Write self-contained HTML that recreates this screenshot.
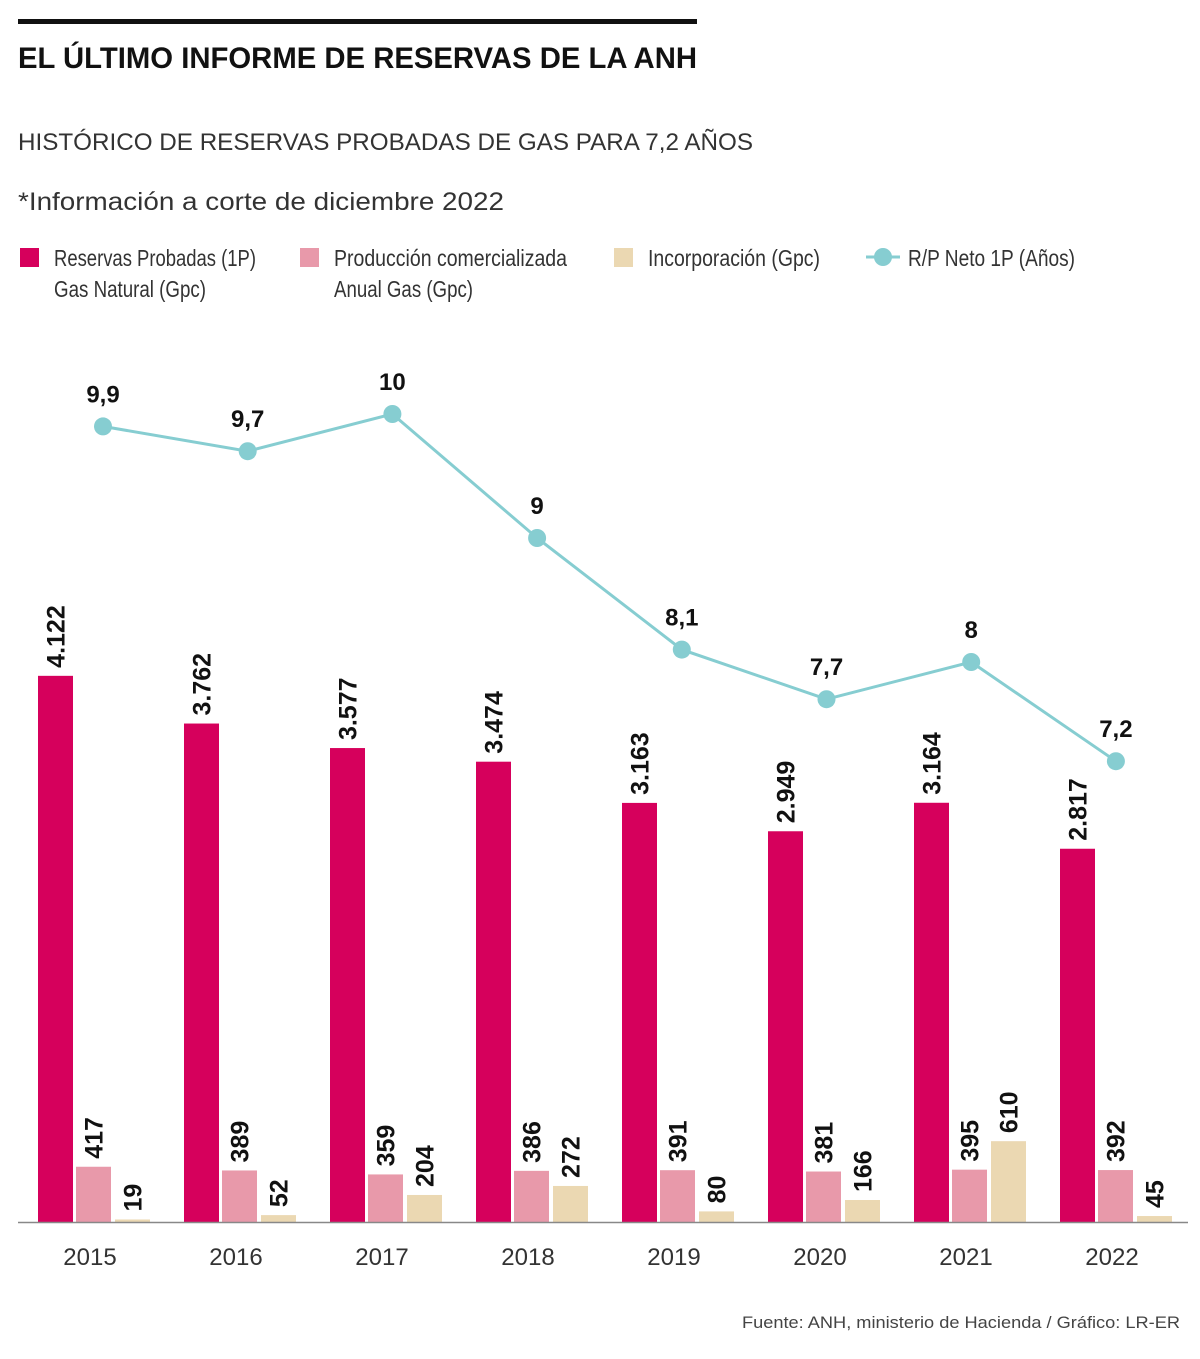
<!DOCTYPE html>
<html><head><meta charset="utf-8"><style>
body{margin:0;background:#fff;width:1200px;height:1354px;overflow:hidden;font-family:"Liberation Sans",sans-serif;}
svg text{font-family:"Liberation Sans",sans-serif;}
</style></head><body>
<svg width="1200" height="1354">
<rect x="18" y="19" width="679" height="5" fill="#111"/>
<text x="18" y="68" font-size="30" font-weight="bold" fill="#111" textLength="679" lengthAdjust="spacingAndGlyphs">EL ÚLTIMO INFORME DE RESERVAS DE LA ANH</text>
<text x="18" y="150" font-size="24" fill="#333" textLength="735" lengthAdjust="spacingAndGlyphs">HISTÓRICO DE RESERVAS PROBADAS DE GAS PARA 7,2 AÑOS</text>
<text x="18" y="210" font-size="25" fill="#333" textLength="486" lengthAdjust="spacingAndGlyphs">*Información a corte de diciembre 2022</text>
<g font-size="23" fill="#333">
<rect x="20" y="248" width="19" height="19" fill="#d6005c"/>
<text x="54" y="266" textLength="202" lengthAdjust="spacingAndGlyphs">Reservas Probadas (1P)</text>
<text x="54" y="297" textLength="152" lengthAdjust="spacingAndGlyphs">Gas Natural (Gpc)</text>
<rect x="300" y="248" width="19" height="19" fill="#e899aa"/>
<text x="334" y="266" textLength="233" lengthAdjust="spacingAndGlyphs">Producción comercializada</text>
<text x="334" y="297" textLength="139" lengthAdjust="spacingAndGlyphs">Anual Gas (Gpc)</text>
<rect x="614" y="248" width="19" height="19" fill="#ebd8b2"/>
<text x="648" y="266" textLength="172" lengthAdjust="spacingAndGlyphs">Incorporación (Gpc)</text>
<line x1="866" y1="257" x2="900" y2="257" stroke="#86cdd1" stroke-width="3"/>
<circle cx="883" cy="257" r="9" fill="#86cdd1"/>
<text x="908" y="266" textLength="167" lengthAdjust="spacingAndGlyphs">R/P Neto 1P (Años)</text>
</g>
<g id="plot"></g>
<line x1="18" y1="1222.5" x2="1188" y2="1222.5" stroke="#888" stroke-width="1.5"/>
<text x="742" y="1328" font-size="17" fill="#444" textLength="438" lengthAdjust="spacingAndGlyphs">Fuente: ANH, ministerio de Hacienda / Gráfico: LR-ER</text>
</svg>
<script>
const years=["2015","2016","2017","2018","2019","2020","2021","2022"];
const reservas=[4122,3762,3577,3474,3163,2949,3164,2817];
const produccion=[417,389,359,386,391,381,395,392];
const incorporacion=[19,52,204,272,80,166,610,45];
const rp=[9.9,9.7,10,9,8.1,7.7,8,7.2];
const rpLabels=["9,9","9,7","10","9","8,1","7,7","8","7,2"];
const base=1222, k=0.1325;
const yb=v=>base-v*k;
const xg=i=>38+146*i;
const yl=v=>414+(10-v)*124;
const xl=i=>103+144.7*i;
const fmt=v=>v>=1000?Math.floor(v/1000)+"."+String(v%1000).padStart(3,"0"):String(v);
const g=document.getElementById("plot"),NS="http://www.w3.org/2000/svg";
function mk(t,a){const e=document.createElementNS(NS,t);for(const q in a)e.setAttribute(q,a[q]);g.appendChild(e);return e;}
const series=[[reservas,"#d6005c",0,"bar-reservas"],[produccion,"#e899aa",38,"bar-produccion"],[incorporacion,"#ebd8b2",77,"bar-incorporacion"]];
years.forEach((y,i)=>{
 series.forEach(([arr,c,off,nm])=>{
  const v=arr[i],x=xg(i)+off;
  const r=mk("rect",{x:x,y:yb(v),width:35,height:v*k,fill:c});
  
  
  const tx=x+17.5+9,ty=yb(v)-8;
  const t=mk("text",{x:tx,y:ty,"font-size":25,"font-weight":"bold",fill:"#111",transform:`rotate(-90 ${tx} ${ty})`});
  t.textContent=fmt(v);
  
  
 });
 const t=mk("text",{x:xg(i)+52,y:1265,"font-size":24,fill:"#333","text-anchor":"middle"});
 t.textContent=y;
 
 
});
const p=mk("polyline",{points:rp.map((v,i)=>xl(i)+","+yl(v)).join(" "),fill:"none",stroke:"#86cdd1","stroke-width":3});


rp.forEach((v,i)=>{
 const c=mk("circle",{cx:xl(i),cy:yl(v),r:9,fill:"#86cdd1"});
 
 
 const t=mk("text",{x:xl(i),y:yl(v)-24,"font-size":24,"font-weight":"bold",fill:"#111","text-anchor":"middle"});
 t.textContent=rpLabels[i];
 
 
});
</script>
</body></html>
